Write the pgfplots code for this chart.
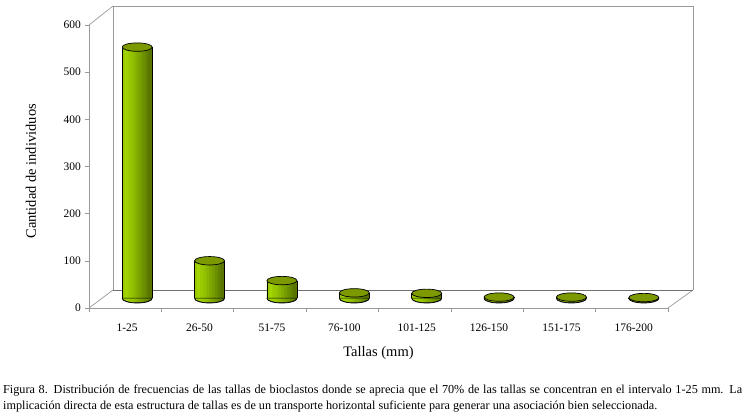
\documentclass[border=0pt]{standalone}
\usepackage{pgfplots}
\usepackage{pgfplotstable}
\usepackage{fontspec}
\setmainfont{Liberation Serif}
\pgfplotsset{compat=1.18}
\definecolor{wallgray}{HTML}{9A9A9A}
\definecolor{floorgray}{HTML}{707070}
\definecolor{topgreen}{HTML}{7C9A00}
\definecolor{s0}{rgb}{0.60,0.79,0}
\definecolor{s1}{rgb}{0.63,0.83,0}
\definecolor{s2}{rgb}{0.60,0.79,0}
\definecolor{s3}{rgb}{0.575,0.76,0}
\definecolor{s4}{rgb}{0.54,0.71,0}
\definecolor{s5}{rgb}{0.50,0.66,0}
\definecolor{s6}{rgb}{0.46,0.61,0}
\definecolor{s7}{rgb}{0.42,0.56,0}
\definecolor{s8}{rgb}{0.38,0.51,0}
\definecolor{s9}{rgb}{0.35,0.46,0}
\pgfdeclarehorizontalshading{cyl}{100bp}{rgb(0bp)=(0.60,0.79,0);rgb(25bp)=(0.60,0.79,0);rgb(33bp)=(0.63,0.83,0);rgb(45bp)=(0.56,0.74,0);rgb(75bp)=(0.33,0.44,0);rgb(100bp)=(0.33,0.44,0)}
\pgfdeclareplotmark{cylbase}{%
  \path[shading=cyl] (canvas cs:x=-15pt,y=0.3pt) arc [start angle=180,end angle=360,x radius=15pt,y radius=4.5pt] -- cycle;
  \draw[black,line width=0.7pt] (canvas cs:x=-15pt,y=0pt) arc [start angle=180,end angle=360,x radius=15pt,y radius=4.5pt];
}
\pgfdeclareplotmark{cyltop}{\path[fill=topgreen,draw=black,line width=0.7pt,rotate=6] (canvas cs:x=0pt,y=0pt) ellipse [x radius=15pt,y radius=4.2pt];}
\pgfplotstableread{
x y
0 533
1 80
2 38
3 12
4 11
5 3
6 3
7 2
}\tallas
\newcommand{\slice}[2]{\addplot[ybar,bar width=4pt,bar shift=#1,draw=none,fill=#2] table[x=x,y=y] {\tallas};}
\begin{document}
\begin{tikzpicture}[x=1pt,y=1pt]
\path[use as bounding box] (0,0) rectangle (744,415);
% back wall and side walls
\draw[wallgray,line width=0.7pt] (113,125) -- (113,409);
\draw[wallgray,line width=0.7pt] (113,409) -- (693,409) -- (693,125);
\draw[wallgray,line width=0.7pt] (89,390) -- (113,409);
\draw[wallgray,line width=0.7pt] (89,107) -- (113,125);
\draw[wallgray,line width=0.7pt] (668,107) -- (693,125);
\draw[floorgray,line width=0.7pt] (113,125) -- (693,125);
\begin{axis}[
  at={(89pt,107pt)},anchor=south west,
  scale only axis,width=579pt,height=283pt,
  xmin=-0.5,xmax=7.5,ymin=0,ymax=600,
  axis x line*=bottom,axis y line*=left,
  axis line style={wallgray,line width=0.7pt,-},
  xtick={0,...,7},
  xticklabels={1-25,26-50,51-75,76-100,101-125,126-150,151-175,176-200},
  minor xtick={-0.5,0.5,...,7.5},
  ytick={0,100,...,600},
  tick align=outside,
  major tick length=4.5pt,minor tick length=4.5pt,
  tick style={wallgray,line width=0.6pt},
  x tick style={draw=none},
  minor x tick style={wallgray,draw=wallgray,line width=0.6pt},
  ticklabel style={font=\fontsize{11.5}{13}\selectfont,text=black},
  x tick label style={yshift=-8pt,xshift=2pt},
  /pgf/number format/assume math mode=true,
  clip=false,
  xlabel={Tallas (mm)},
  ylabel={Cantidad de individuos},
  label style={font=\fontsize{14.5}{16}\selectfont,text=black},
  xlabel style={at={(axis description cs:0.5,0)},anchor=center,yshift=-45pt},
  ylabel style={at={(axis description cs:0,0.483)},anchor=center,yshift=58pt},
]
\end{axis}
\begin{axis}[
  at={(101pt,116.5pt)},anchor=south west,
  scale only axis,width=579pt,height=283pt,
  xmin=-0.5,xmax=7.5,ymin=0,ymax=600,
  axis lines=none,clip=false,
]
\addplot[only marks,mark=cylbase] table[x=x,y expr=0] {\tallas};
\slice{-13pt}{s0}
\slice{-10.5pt}{s1}
\slice{-7.5pt}{s2}
\slice{-4.5pt}{s3}
\slice{-1.5pt}{s4}
\slice{1.5pt}{s5}
\slice{4.5pt}{s6}
\slice{7.5pt}{s7}
\slice{10.5pt}{s8}
\slice{13pt}{s9}
\addplot[ycomb,black,line width=0.7pt,mark=none] table[x expr=\thisrow{x}-0.2073,y=y] {\tallas};
\addplot[ycomb,black,line width=0.7pt,mark=none] table[x expr=\thisrow{x}+0.2073,y=y] {\tallas};
\addplot[only marks,mark=cyltop] table[x=x,y=y] {\tallas};
\end{axis}
\node[anchor=west,inner sep=0pt,font=\fontsize{12.2}{13}\selectfont] at (3,24) {\makebox[739pt][s]{Figura 8. Distribución de frecuencias de las tallas de bioclastos donde se aprecia que el 70\% de las tallas se concentran en el intervalo 1-25 mm. La}};
\node[anchor=west,inner sep=0pt,font=\fontsize{12.2}{13}\selectfont] at (3,8.5) {implicación directa de esta estructura de tallas es de un transporte horizontal suficiente para generar una asociación bien seleccionada.};
\end{tikzpicture}
\end{document}
